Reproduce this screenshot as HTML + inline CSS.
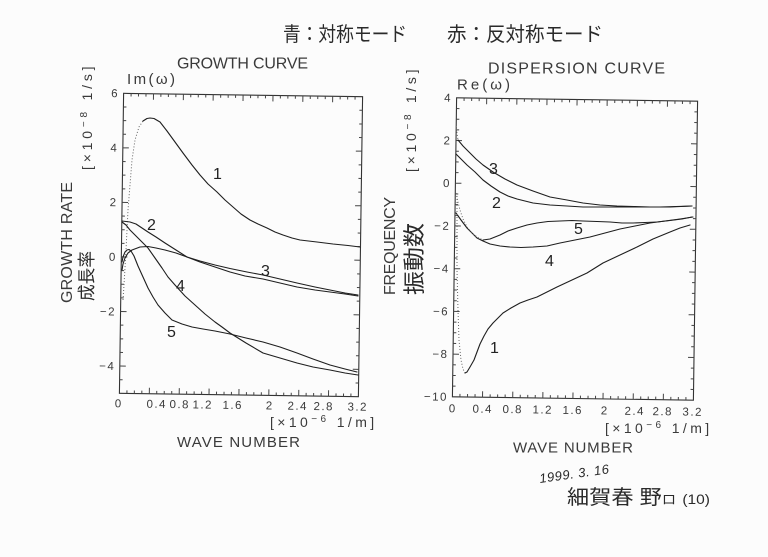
<!DOCTYPE html>
<html><head><meta charset="utf-8"><style>
html,body{margin:0;padding:0;background:#fcfcfc;}
svg{display:block;}
text{font-family:"Liberation Sans","Noto Sans CJK JP",sans-serif;}
.t{fill:#3a3a3a;}
.cj{font-family:"Liberation Sans","Noto Sans CJK JP",sans-serif;fill:#2a2a2a;}
.c{fill:none;stroke:#1e1e1e;stroke-width:1.1;stroke-linejoin:round;stroke-linecap:round;}
.d{fill:none;stroke:#666;stroke-width:1;stroke-dasharray:1 2;}
.fr{fill:none;stroke:#333;stroke-width:1.1;}
.tk{fill:none;stroke:#444;stroke-width:1;}
.n{font-size:16px;fill:#222;}
</style></head><body>
<svg width="768" height="557" viewBox="0 0 768 557" xmlns="http://www.w3.org/2000/svg">
<rect x="0" y="0" width="768" height="557" fill="#fcfcfc"/>
<defs>
<path id="lxt" d="M129 0v-3M136.4 0v-3M143.9 0v-3M151.4 0v-6M158.8 0v-3M166.3 0v-3M173.8 0v-3M181.3 0v-6M188.7 0v-3M196.2 0v-3M203.7 0v-3M211.1 0v-6M218.6 0v-3M226.1 0v-3M233.5 0v-3M241 0v-6M248.5 0v-3M255.9 0v-3M263.4 0v-3M270.9 0v-6M278.3 0v-3M285.8 0v-3M293.3 0v-3M300.8 0v-6M308.2 0v-3M315.7 0v-3M323.2 0v-3M330.6 0v-6M338.1 0v-3M345.6 0v-3M353 0v-3"/>
<path id="lyt" d="M0 108.6h3M0 122.3h3M0 135.9h3M0 149.5h6M0 163.2h3M0 176.8h3M0 190.5h3M0 204.1h6M0 217.7h3M0 231.4h3M0 245h3M0 258.6h6M0 272.3h3M0 285.9h3M0 299.5h3M0 313.2h6M0 326.8h3M0 340.5h3M0 354.1h3M0 367.7h6M0 381.4h3"/>
<path id="rxt" d="M462 0v-3M469.6 0v-3M477.1 0v-3M484.6 0v-6M492.2 0v-3M499.7 0v-3M507.2 0v-3M514.8 0v-6M522.3 0v-3M529.8 0v-3M537.3 0v-3M544.9 0v-6M552.4 0v-3M559.9 0v-3M567.5 0v-3M575 0v-6M582.5 0v-3M590.1 0v-3M597.6 0v-3M605.1 0v-6M612.7 0v-3M620.2 0v-3M627.7 0v-3M635.3 0v-6M642.8 0v-3M650.3 0v-3M657.8 0v-3M665.4 0v-6M672.9 0v-3M680.4 0v-3M688 0v-3"/>
<path id="ryt" d="M0 110.2h3M0 120.9h3M0 131.5h3M0 142.2h6M0 152.9h3M0 163.6h3M0 174.3h3M0 184.9h6M0 195.6h3M0 206.3h3M0 217h3M0 227.6h6M0 238.3h3M0 249h3M0 259.7h3M0 270.4h6M0 281h3M0 291.7h3M0 302.4h3M0 313.1h6M0 323.8h3M0 334.4h3M0 345.1h3M0 355.8h6M0 366.5h3M0 377.2h3M0 387.8h3"/>
</defs>

<!-- handwritten header -->
<text class="cj" x="283" y="41" font-size="20" textLength="124" lengthAdjust="spacingAndGlyphs">青：対称モード</text>
<text class="cj" x="447" y="41" font-size="20" textLength="156" lengthAdjust="spacingAndGlyphs">赤：反対称モード</text>

<!-- LEFT CHART -->
<g transform="rotate(0.8 241 245)">
<rect class="fr" x="121.5" y="95" width="239" height="300"/>
<use href="#lxt" class="tk" transform="translate(0,395)"/>
<use href="#lxt" class="tk" transform="translate(0,95) scale(1,-1)"/>
<use href="#lyt" class="tk" transform="translate(121.5,0)"/>
<use href="#lyt" class="tk" transform="translate(360.5,0) scale(-1,1)"/>
<g class="t" font-size="11.5" text-anchor="end" letter-spacing="1.5">
<text x="117" y="99">6</text>
<text x="117" y="153.5">4</text>
<text x="117" y="208">2</text>
<text x="117" y="262.6">0</text>
<text x="117" y="317.2">−2</text>
<text x="117" y="371.7">−4</text>
</g>
<g class="t" font-size="11.5" text-anchor="middle" letter-spacing="1.5">
<text x="121" y="409">0</text>
<text x="159" y="409">0.4</text>
<text x="182" y="409">0.8</text>
<text x="205" y="409">1.2</text>
<text x="235" y="409">1.6</text>
<text x="272" y="409">2</text>
<text x="300" y="409">2.4</text>
<text x="326" y="409">2.8</text>
<text x="360" y="409">3.2</text>
</g>
</g>
<text class="t" x="177" y="68.5" font-size="16" textLength="131" lengthAdjust="spacing">GROWTH CURVE</text>
<text class="t" x="127" y="84" font-size="15" textLength="48" lengthAdjust="spacing">Im(ω)</text>
<text class="t" transform="translate(92,170) rotate(-90)" font-size="14" letter-spacing="3.8">[×10<tspan font-size="10" dy="-5">−8</tspan><tspan dy="5"> 1/s]</tspan></text>
<text class="t" transform="translate(72,303) rotate(-90)" font-size="16" textLength="121" lengthAdjust="spacing">GROWTH RATE</text>
<text class="cj" transform="translate(93,301) rotate(-90)" font-size="18" textLength="50" lengthAdjust="spacingAndGlyphs">成長率</text>
<text class="t" x="270" y="427" font-size="14" letter-spacing="3.4">[×10<tspan font-size="10" dy="-5">−6</tspan><tspan dy="5"> 1/m]</tspan></text>
<text class="t" x="177" y="447" font-size="15" textLength="123" lengthAdjust="spacing">WAVE NUMBER</text>

<!-- left curves -->
<polyline class="d" points="123,300 124,285 125,268 126,250 127,230 128,210 130,185 132,160 135,140 139,127 143,121"/>
<polyline class="c" points="143,121 147,118.5 150,118 154,118.5 160,122 167,131 175,142 183,153 192,165 200,175 208,184 217,192 225,200 233,207 241,214 250,220 258,224 267,228 275,232 283,235 292,238 300,240 317,242 333,244 348,245.5 360,247"/>
<polyline class="c" points="122,221 130,222 136,224 142,228 148,232 156,237 165,243 176,250 187,257 200,262 215,267 230,272 245,276 263,279 280,283 297,287 315,290 330,292 345,294 358,296"/>
<polyline class="c" points="122,270 123,264 125,258 128,253 132,250 140,247 148,246.5 156,248 165,250 176,253 187,257 200,261 215,265 230,268.5 247,272 263,275 280,279 297,283 315,287 330,290 345,293 358,295"/>
<polyline class="c" points="122,222 126,225 130,230 135,235 141,241 148,248 155,258 162,268 168,277 175,285 185,296 195,305 205,314 215,322 222,327 230,333 246,343 263,353 280,358 297,363 313,367 330,370 345,373 358,375"/>
<polyline class="c" points="122,262 123,257 125,252 127,250 129,249.5 131,251 134,256 138,266 143,277 148,288 153,297 158,305 165,313 172,320 182,324 192,327 203,329 215,331 230,334 246,338 263,342 280,347 297,353 313,359 330,365 345,369 357,372"/>
<text class="n" x="213" y="179">1</text>
<text class="n" x="147" y="230">2</text>
<text class="n" x="261" y="276">3</text>
<text class="n" x="176" y="291" font-size="18">4</text>
<text class="n" x="167" y="337">5</text>

<!-- RIGHT CHART -->
<g transform="rotate(0.8 575 249)">
<rect class="fr" x="454.5" y="99.5" width="241" height="299"/>
<use href="#rxt" class="tk" transform="translate(0,398.5)"/>
<use href="#rxt" class="tk" transform="translate(0,99.5) scale(1,-1)"/>
<use href="#ryt" class="tk" transform="translate(454.5,0)"/>
<use href="#ryt" class="tk" transform="translate(695.5,0) scale(-1,1)"/>
<g class="t" font-size="11.5" text-anchor="end" letter-spacing="1.5">
<text x="450" y="103.5">4</text>
<text x="450" y="146.2">2</text>
<text x="450" y="188.9">0</text>
<text x="450" y="231.6">−2</text>
<text x="450" y="274.4">−4</text>
<text x="450" y="317.1">−6</text>
<text x="450" y="359.8">−8</text>
<text x="450" y="402.5">−10</text>
</g>
<g class="t" font-size="11.5" text-anchor="middle" letter-spacing="1.5">
<text x="455" y="414">0</text>
<text x="485" y="414">0.4</text>
<text x="515" y="414">0.8</text>
<text x="545" y="414">1.2</text>
<text x="575" y="414">1.6</text>
<text x="607" y="414">2</text>
<text x="637" y="414">2.4</text>
<text x="665" y="414">2.8</text>
<text x="695" y="414">3.2</text>
</g>
</g>
<text class="t" x="488" y="73.5" font-size="16" textLength="177" lengthAdjust="spacing">DISPERSION CURVE</text>
<text class="t" x="457" y="89.5" font-size="15" textLength="53" lengthAdjust="spacing">Re(ω)</text>
<text class="t" transform="translate(416,172) rotate(-90)" font-size="14" letter-spacing="3.7">[×10<tspan font-size="10" dy="-5">−8</tspan><tspan dy="5"> 1/s]</tspan></text>
<text class="t" transform="translate(395,295) rotate(-90)" font-size="16" textLength="98" lengthAdjust="spacing">FREQUENCY</text>
<text class="cj" transform="translate(422,295) rotate(-90)" font-size="22" textLength="72" lengthAdjust="spacingAndGlyphs">振動数</text>
<text class="t" x="605" y="433" font-size="14" letter-spacing="3.4">[×10<tspan font-size="10" dy="-5">−6</tspan><tspan dy="5"> 1/m]</tspan></text>
<text class="t" x="513" y="452.5" font-size="15" textLength="120" lengthAdjust="spacing">WAVE NUMBER</text>

<!-- right curves -->
<polyline class="d" points="456,126 457,133 458,140"/>
<polyline class="c" points="458,140 463,146 470,153 476,159 483,165 493,172 505,179 517,185 533,191 550,197 567,200 583,203 600,205 617,206 634,206.5 650,207 670,207 692,206"/>
<polyline class="c" points="456,154 461,159 467,165 475,172 483,180 491,186 500,192 508,196 517,199 533,203 550,205 567,206 583,207 600,207 634,207 660,207 692,206"/>
<polyline class="c" points="456,213 461,220 467,228 472,233 477,238 483,241 490,244 500,246 510,247 521,247.5 533,247 547,246 560,243 575,240 590,237 605,233 620,229 635,226 650,223 665,221 680,219 693,217"/>
<polyline class="d" points="456,193 458,202 460,210 463,219 467,227 472,233 477,237 483,240"/>
<polyline class="c" points="483,240 490,239 500,235 508,231 517,228 527,225 537,223 548,221.5 560,221 572,220.5 583,221 597,221.5 610,222 622,223 633,223 645,222.5 657,222 670,220.5 682,219 692,217"/>
<polyline class="d" points="457,196 457,230 457,270 458,310 459,340 461,360 463,369 465,373"/>
<polyline class="c" points="465,373 467,372 470,367 474,360 477,352 480,344 484,336 488,329 493,323 498,318 503,313 511,308 520,303 528,300 537,297 547,292 557,287 572,280 587,273 595,268 603,263 620,255 637,247 653,239 670,232 680,228 690,225"/>
<text class="n" x="489" y="174">3</text>
<text class="n" x="492" y="208">2</text>
<text class="n" x="574" y="234" font-size="13">5</text>
<text class="n" x="545" y="266" font-size="18">4</text>
<text class="n" x="490" y="353">1</text>

<!-- signature -->
<text class="cj" transform="translate(540,483) rotate(-8)" font-size="13" font-style="italic" letter-spacing="0.5">1999. 3. 16</text>
<text class="cj" x="567" y="504" font-size="20" textLength="143" lengthAdjust="spacingAndGlyphs">細賀春 野<tspan font-size="13">ロ</tspan> <tspan font-size="14">(10)</tspan></text>
</svg>
</body></html>
